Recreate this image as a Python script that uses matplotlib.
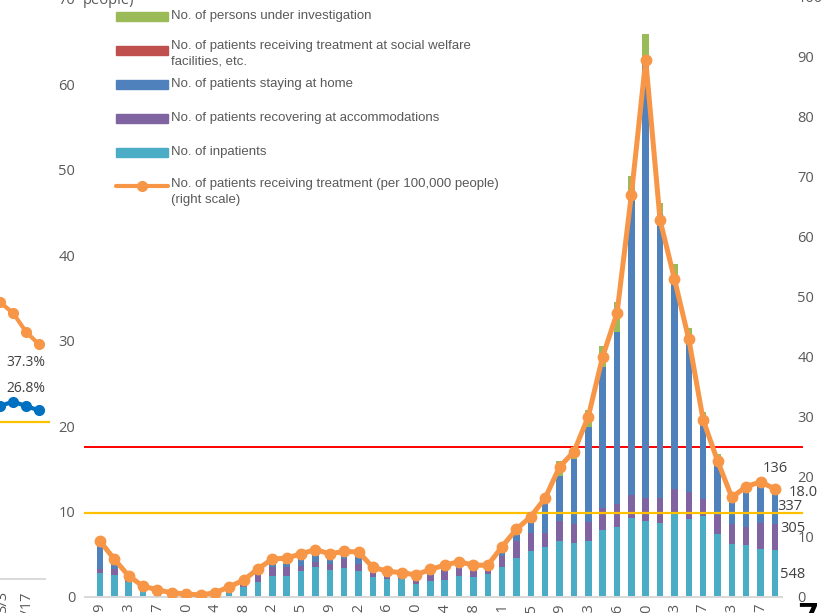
import numpy as np
import matplotlib
matplotlib.use('Agg')
import matplotlib.pyplot as plt
from matplotlib.patches import Rectangle
from matplotlib.lines import Line2D

# weekly dates (2020/4/29 - 2021/3/24)
dates = ['4/29', '5/6', '5/13', '5/20', '5/27', '6/3', '6/10', '6/17', '6/24', '7/1',
         '7/8', '7/15', '7/22', '7/29', '8/5', '8/12', '8/19', '8/26', '9/2', '9/9',
         '9/16', '9/23', '9/30', '10/7', '10/14', '10/21', '10/28', '11/4', '11/11', '11/18',
         '11/25', '12/2', '12/9', '12/16', '12/23', '12/30', '1/6', '1/13', '1/20', '1/27',
         '2/3', '2/10', '2/17', '2/24', '3/3', '3/10', '3/17', '3/24']

inpatients = [2.8, 2.6, 1.8, 1.0, 0.4, 0.2, 0.1, 0.1, 0.15, 0.6,
              1.2, 1.8, 2.5, 2.4, 3.0, 3.5, 3.2, 3.4, 3.0, 2.3,
              2.1, 2.1, 1.5, 1.9, 2.0, 2.4, 2.3, 2.65, 3.5, 4.6,
              5.4, 5.9, 6.55, 6.35, 6.55, 7.8, 8.2, 9.2, 8.9, 8.6,
              9.7, 9.1, 9.5, 7.4, 6.2, 6.1, 5.6, 5.5]
accommodations = [0.5, 0.7, 0.2, 0.1, 0.05, 0.0, 0.0, 0.0, 0.0, 0.05,
                  0.3, 0.9, 1.0, 1.1, 0.6, 0.6, 0.7, 1.1, 0.9, 0.5,
                  0.3, 0.2, 0.5, 0.7, 1.2, 1.0, 0.9, 0.55, 1.3, 1.9,
                  2.05, 1.55, 2.35, 2.15, 2.25, 2.65, 2.7, 2.7, 2.7, 3.0,
                  2.9, 3.2, 2.0, 2.2, 2.3, 2.1, 3.0, 3.0]
home = [3.0, 0.6, 0.2, 0.1, 0.05, 0.05, 0.02, 0.0, 0.05, 0.05,
        0.1, 0.2, 0.5, 0.4, 0.9, 0.8, 0.5, 0.3, 0.8, 0.4,
        0.2, 0.2, 0.3, 0.2, 0.3, 0.2, 0.3, 0.15, 0.5, 0.8,
        1.8, 3.75, 5.25, 7.6, 11.1, 16.45, 20.05, 35.1, 50.9, 33.2,
        24.1, 17.95, 8.6, 6.8, 3.4, 4.9, 4.9, 4.3]
welfare = [0.0] * 48
investigation = [0.0, 0.0, 0.0, 0.0, 0.0, 0.0, 0.0, 0.0, 0.0, 0.0,
                 0.0, 0.0, 0.0, 0.1, 0.1, 0.1, 0.1, 0.1, 0.1, 0.0,
                 0.0, 0.0, 0.0, 0.0, 0.0, 0.0, 0.0, 0.05, 0.1, 0.1,
                 0.25, 0.3, 1.75, 1.5, 2.0, 2.45, 3.55, 2.3, 3.4, 1.3,
                 2.2, 1.25, 1.5, 0.3, 0.2, 0.2, 0.4, 0.3]
per100k = [9.3, 6.3, 3.5, 1.8, 1.2, 0.7, 0.5, 0.35, 0.7, 1.7,
           2.8, 4.7, 6.3, 6.5, 7.2, 7.9, 7.2, 7.6, 7.5, 4.95,
           4.3, 4.05, 3.7, 4.6, 5.3, 5.9, 5.3, 5.3, 8.4, 11.3,
           13.4, 16.5, 21.7, 24.2, 30.05, 40.05, 47.3, 67.0, 89.5, 62.8,
           53.0, 42.95, 29.5, 22.7, 16.6, 18.4, 19.2, 18.0]
stage4_line = 25      # right scale
yellow_line = 9.85    # left scale

# piece of the neighbouring chart on the left
frag_x = [-1, 0, 1, 2, 3]
frag_orange = [48.0, 44.0, 42.3, 39.3, 37.3]
frag_blue = [27.0, 27.5, 28.2, 27.5, 26.8]

C_TEAL = '#4BACC6'
C_PURPLE = '#8064A2'
C_BLUE = '#4F81BD'
C_RED = '#C0504D'
C_GREEN = '#9BBB59'
C_ORANGE = '#F79646'
C_TXT = '#595959'

plt.rcParams['font.family'] = ['Open Sans', 'DejaVu Sans']

W, H = 822, 613
fig = plt.figure(figsize=(W / 100, H / 100), dpi=100)
ax = fig.add_axes([85 / W, 1 - 597 / H, 697 / W, 600 / H])
ax2 = ax.twinx()
ax.set_zorder(2)
ax.patch.set_visible(False)

x = np.arange(len(dates))
bw = 0.45
bottom = np.zeros(len(x))
for vals, col in [(inpatients, C_TEAL), (accommodations, C_PURPLE), (home, C_BLUE),
                  (welfare, C_RED), (investigation, C_GREEN)]:
    ax.bar(x, vals, bw, bottom=bottom, color=col, zorder=2)
    bottom += np.array(vals)

ax.axhline(yellow_line, xmin=0, xmax=(802 - 85) / 697, color='#FFC000', lw=1.6,
           clip_on=False, zorder=3)
ax2.axhline(stage4_line, xmin=0, xmax=(802 - 85) / 697, color='#FF0000', lw=1.4,
            clip_on=False, zorder=3)
# orange line drawn on the left axes (scaled to the right axis) so it sits above the bars
scale = 70.18 / 100
ax.plot(x, np.array(per100k) * scale, color=C_ORANGE, lw=3.6, marker='o', ms=7.5,
        zorder=5, solid_joinstyle='round')

ax.set_xlim(-1.045, 47.49)
ax.set_ylim(0, 70.18)
ax2.set_ylim(0, 100)
ax.set_yticks(range(0, 71, 10))
ax2.set_yticks(range(0, 101, 10))
ax.set_xticks(x[::2])
ax.set_xticklabels(dates[::2], rotation=90)
ax.tick_params(axis='x', length=0, pad=4, labelsize=10.5, labelcolor=C_TXT)
ax.tick_params(axis='y', length=0, pad=7, labelsize=10.5, labelcolor=C_TXT)
ax2.tick_params(axis='y', length=0, pad=11, labelsize=10.5, labelcolor=C_TXT)
for a in (ax, ax2):
    for s in ('top', 'left', 'right'):
        a.spines[s].set_visible(False)
    a.spines['bottom'].set_color('#D9D9D9')
    a.spines['bottom'].set_linewidth(1.4)

fig.text(83 / W, 1 - 1 / H, 'people)', fontsize=10.5, color=C_TXT, va='center')

# legend, laid out like the Excel one (uneven row gaps)
legend_rows = [
    ('patch', C_GREEN, 16.5, ['No. of persons under investigation'], [15.5]),
    ('patch', C_RED, 50.5, ['No. of patients receiving treatment at social welfare',
                            'facilities, etc.'], [46, 61.5]),
    ('patch', C_BLUE, 84.5, ['No. of patients staying at home'], [84.5]),
    ('patch', C_PURPLE, 118.5, ['No. of patients recovering at accommodations'], [118.5]),
    ('patch', C_TEAL, 152.5, ['No. of inpatients'], [152.5]),
    ('line', C_ORANGE, 186, ['No. of patients receiving treatment (per 100,000 people)',
                             '(right scale)'], [184, 200]),
]
for kind, col, hy, lines, ys in legend_rows:
    if kind == 'patch':
        fig.patches.append(Rectangle((116 / W, 1 - (hy + 4.5) / H), 52 / W, 9 / H,
                                     transform=fig.transFigure, color=col))
    else:
        fig.lines.append(Line2D([116 / W, 168 / W], [1 - hy / H] * 2, transform=fig.transFigure,
                                color=col, lw=3, solid_capstyle='round'))
        fig.lines.append(Line2D([142 / W], [1 - hy / H], transform=fig.transFigure,
                                color=col, marker='o', ms=7))
    for line, ty in zip(lines, ys):
        fig.text(171 / W, 1 - ty / H, line, fontsize=9.5, color=C_TXT, va='center',
                 family='Liberation Sans')

# fragment of the neighbouring chart
axf = fig.add_axes([0, 1 - 579 / H, 45 / W, 579 / H])
axf.set_xlim(0, 45 / 13)
axf.set_ylim(0, 579 / 6.29)
axf.plot(frag_x, frag_orange, color=C_ORANGE, lw=3, marker='o', ms=7)
axf.plot(frag_x, frag_blue, color='#0070C0', lw=3, marker='o', ms=7)
axf.axhline(25, xmin=0, xmax=49 / 45, color='#FFC000', lw=1.6, clip_on=False)
axf.set_xticks([])
axf.set_yticks([])
axf.patch.set_visible(False)
for s in ('top', 'left', 'right'):
    axf.spines[s].set_visible(False)
axf.spines['bottom'].set_color('#D9D9D9')
axf.spines['bottom'].set_linewidth(1.4)
fig.text(26 / W, 1 - 362 / H, '37.3%', fontsize=10, color='#404040', ha='center', va='center')
fig.text(26 / W, 1 - 389 / H, '26.8%', fontsize=10, color='#404040', ha='center', va='center')
fig.text(3 / W, 1 - 591 / H, '3/3', fontsize=10.5, color=C_TXT, rotation=90, ha='center', va='top')
fig.text(27 / W, 1 - 591 / H, '3/17', fontsize=10.5, color=C_TXT, rotation=90, ha='center', va='top')

# overlapping labels at the right edge
for txt, px, py in [('136', 775, 469), ('18.0', 803, 492), ('337', 790, 507),
                    ('305', 793, 528), ('548', 793, 575)]:
    fig.text(px / W, 1 - py / H, txt, fontsize=10.5, color='#404040', ha='center', va='center')
fig.text(808 / W, 1 - 601 / H, '7', fontsize=24, fontweight='bold', color='black',
         ha='center', va='top')

fig.savefig('out.png', dpi=100)
